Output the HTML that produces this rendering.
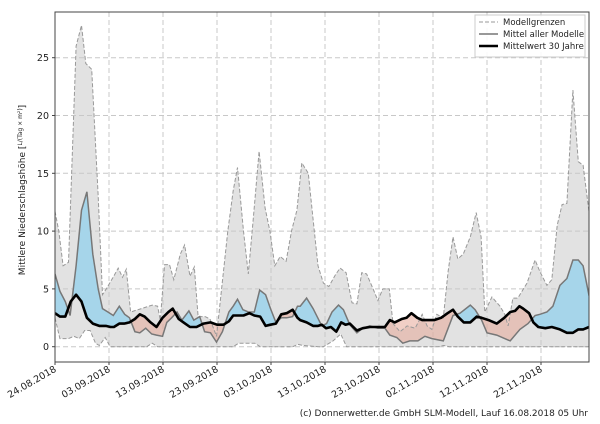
<!DOCTYPE html><html><head><meta charset="utf-8"><style>
body{margin:0;background:#fff;width:600px;height:420px;overflow:hidden;font-family:"DejaVu Sans","Liberation Sans",sans-serif}
</style></head><body>
<svg id="s" width="600" height="420" xmlns="http://www.w3.org/2000/svg" font-family="DejaVu Sans, Liberation Sans, sans-serif"></svg>
<script>
const X0=55,X1=589,Y0=12,Y1=362;
const px=d=>X0+d*5.4, py=v=>346.7-v*11.56;
const up=[[0,11.7],[0.7,10],[1.5,7],[2.5,7.3],[3.9,26],[4.9,27.8],[5.7,24.5],[6.8,24],[8,13],[8.8,4.5],[9.5,5],[11,6.2],[11.7,6.8],[12.5,6],[13.2,6.7],[14,3],[16,3.3],[18,3.6],[19,3.5],[19.5,2.3],[20.3,7.1],[21.2,7.1],[22,5.8],[23.2,8],[24,8.8],[25,6.1],[25.8,6.9],[26.5,2.6],[27.8,2.6],[28.7,2.4],[29.9,0.9],[32,10],[33,13.5],[33.8,15.5],[34.9,10],[35.8,6.3],[36.7,11],[37.8,16.9],[38.9,12],[39.8,10],[40.7,7],[41.7,7.8],[42.8,7.4],[43.8,10],[44.8,11.8],[45.7,15.9],[46.9,15],[47.8,11],[48.7,7],[49.7,5.5],[50.7,5.2],[51.9,6.2],[52.8,6.8],[53.9,6.4],[55,3.8],[55.9,3.7],[56.8,6.4],[57.7,6.3],[58.9,5],[59.8,4],[60.7,5],[61.9,5],[62.6,2],[63.9,1.3],[65.2,1.8],[66.7,1.6],[68,2.8],[68.9,1.8],[69.8,1.5],[70.7,2.8],[71.9,2.5],[72.8,6.5],[73.7,9.5],[74.6,7.6],[75.6,8],[76.9,9.5],[78,11.6],[78.9,9.5],[79.6,3],[80.9,4.3],[82.4,3.5],[83.3,2.8],[83.9,1.8],[84.8,4.2],[85.7,4.2],[87.4,5.5],[88.9,7.5],[89.8,6.5],[91.1,5.3],[92,5.8],[93,10.5],[93.9,12.3],[94.8,12.4],[95.9,22.2],[96.9,16],[97.8,15.7],[98.9,11.6]];
const lo=[[0,2.5],[0.9,0.7],[2.5,0.7],[3.5,0.9],[4.5,0.7],[5.5,1.4],[6.5,1.4],[7.5,0.3],[8.2,0.1],[9.3,0.8],[10.2,0],[17,0],[18,0.3],[19,0],[33,0],[34,0.3],[37,0.3],[38,0],[44,0],[45,0.2],[46,0.1],[48.7,0],[49.7,0],[51.5,0.5],[52.9,1.1],[54,0],[71,0],[72,0.1],[73,0],[98.9,0]];
const mn=[[0,6.3],[0.9,4.8],[1.9,3.9],[2.8,2.7],[3.9,7],[4.9,11.8],[5.9,13.4],[7,8],[8,5],[8.8,3.3],[9.8,3],[10.8,2.7],[11.9,3.5],[12.9,2.8],[13.8,2.5],[14.8,1.3],[15.7,1.2],[16.8,1.6],[17.9,1.1],[18.8,1],[19.9,0.9],[20.7,2.1],[21.6,2.5],[22.6,3],[23.5,2.3],[24.8,3.1],[25.7,2.3],[26.8,2.6],[27.7,1.3],[28.8,1.2],[29.9,0.4],[31,1.3],[32.2,3],[33,3.5],[33.8,4.1],[34.8,3.2],[35.8,3],[36.9,3],[37.9,4.9],[39,4.5],[39.9,3.3],[40.9,2.1],[41.9,2.5],[42.9,2.5],[44,2.6],[44.9,3.5],[45.4,3.5],[46.6,4.2],[47.8,3.3],[49.4,1.8],[50.3,2],[51.3,3],[52.5,3.6],[53.4,3.2],[54.6,1.9],[55.9,1.2],[57,1.6],[58.3,1.8],[59.8,1.6],[61.1,1.6],[62,1],[63.3,0.8],[64.4,0.3],[65.7,0.5],[67.2,0.5],[68.5,0.9],[69.8,0.7],[71.9,0.5],[73.7,2.7],[75,2.9],[76.9,3.6],[77.8,3.2],[79,2.3],[80,1.2],[81.8,1],[84.3,0.5],[86.1,1.5],[87.6,2],[88.9,2.7],[89.8,2.8],[91.1,3],[92.2,3.5],[93.5,5.3],[94.8,5.9],[95.9,7.5],[96.9,7.5],[97.8,7],[98.9,4.4]];
const cl=[[0,2.9],[0.9,2.6],[1.9,2.6],[2.9,3.9],[3.9,4.5],[4.9,3.9],[5.9,2.5],[7,2],[8.2,1.8],[9.4,1.8],[10.3,1.7],[10.9,1.7],[11.9,2],[12.8,2],[13.8,2.1],[14.8,2.4],[15.7,2.8],[16.6,2.6],[17.7,2.1],[18.8,1.7],[19.9,2.5],[21,3],[21.8,3.3],[22.9,2.4],[23.8,2.1],[25,1.7],[26.2,1.7],[27.5,2],[28.8,2.1],[30,1.9],[31.2,1.9],[32.2,2.2],[33,2.7],[34,2.7],[34.9,2.7],[36,2.9],[36.9,2.7],[38,2.6],[39,1.8],[39.9,1.9],[40.9,2],[41.9,2.8],[42.9,2.9],[44,3.2],[44.9,2.5],[45.4,2.3],[46.6,2.1],[47.8,1.8],[48.7,1.8],[49.4,1.9],[50.2,1.6],[51.1,1.7],[52.1,1.3],[53,2.1],[53.8,1.9],[54.6,2],[55.9,1.4],[57,1.6],[58.3,1.7],[59.8,1.7],[61.1,1.7],[62,2.3],[62.9,2.1],[64.2,2.4],[65.1,2.5],[66,2.9],[67.1,2.5],[68,2.3],[69.3,2.3],[70.2,2.3],[71.5,2.5],[72.7,2.9],[73.7,3.2],[74.6,2.6],[75.7,2.1],[76.9,2.1],[78.1,2.6],[79,2.5],[80.3,2.3],[81.8,2],[83.2,2.5],[84.3,3],[85.2,3.1],[86,3.5],[86.7,3.3],[87.8,2.9],[88.6,2.1],[89.5,1.7],[90.8,1.6],[92,1.7],[93.5,1.5],[94.8,1.2],[95.9,1.2],[96.9,1.5],[97.8,1.5],[98.9,1.7]];
const P=a=>a.map(p=>px(p[0]).toFixed(1)+','+py(p[1]).toFixed(1)).join(' ');
const rev=a=>a.slice().reverse();
let h='';
h+=`<defs><clipPath id="pa"><rect x="${X0}" y="${Y0}" width="${X1-X0}" height="${Y1-Y0}"/></clipPath>
<clipPath id="aboveCl"><polygon points="${P(cl)} ${X1},0 ${X0},0"/></clipPath>
<clipPath id="aboveMn"><polygon points="${P(mn)} ${X1},0 ${X0},0"/></clipPath></defs>`;
h+=`<g clip-path="url(#pa)">`;
h+=`<polygon points="${P(up)} ${P(rev(lo))}" fill="#e2e2e2"/>`;
// grid
let g='';
for(let v=0;v<=25;v+=5)g+=`<line x1="${X0}" x2="${X1}" y1="${py(v)}" y2="${py(v)}" stroke="#c8c8c8" stroke-dasharray="5,3" stroke-width="1"/>`;
for(let d=10;d<99;d+=10)g+=`<line y1="${Y0}" y2="${Y1}" x1="${px(d)}" x2="${px(d)}" stroke="#c8c8c8" stroke-dasharray="5,3" stroke-width="1"/>`;
h+=g;
h+=`<polygon clip-path="url(#aboveCl)" points="${P(mn)} ${X1},400 ${X0},400" fill="#a6d5ea"/>`;
h+=`<polygon clip-path="url(#aboveMn)" points="${P(cl)} ${X1},400 ${X0},400" fill="#e6a898" fill-opacity="0.55"/>`;
h+=`<polyline points="${P(up)}" fill="none" stroke="#999" stroke-dasharray="4,2" stroke-width="1"/>`;
h+=`<polyline points="${P(lo)}" fill="none" stroke="#999" stroke-dasharray="4,2" stroke-width="1"/>`;
h+=`<polyline points="${P(mn)}" fill="none" stroke="#777" stroke-width="1.5"/>`;
h+=`<polyline points="${P(cl)}" fill="none" stroke="#000" stroke-width="2.6" stroke-linejoin="round"/>`;
h+=`</g>`;
h+=`<rect x="${X0}" y="${Y0}" width="${X1-X0}" height="${Y1-Y0}" fill="none" stroke="#444" stroke-width="1"/>`;
for(let v=0;v<=25;v+=5){h+=`<line x1="${X0-3}" x2="${X0}" y1="${py(v)}" y2="${py(v)}" stroke="#444"/><text x="${X0-6}" y="${py(v)+3.5}" font-size="9.5" text-anchor="end" fill="#222">${v}</text>`;}
const labs=['24.08.2018','03.09.2018','13.09.2018','23.09.2018','03.10.2018','13.10.2018','23.10.2018','02.11.2018','12.11.2018','22.11.2018'];
labs.forEach((l,i)=>{const x=px(i*10);h+=`<line x1="${x}" x2="${x}" y1="${Y1}" y2="${Y1+3}" stroke="#444"/><text transform="translate(${x+2},${Y1+9}) rotate(-30)" font-size="9.5" text-anchor="end" fill="#222">${l}</text>`;});
h+=`<text transform="translate(25,190) rotate(-90)" font-size="9" text-anchor="middle" fill="#222">Mittlere Niederschlagshöhe [<tspan font-size="6" dy="-3">L/(Tag × m²)</tspan><tspan dy="3">]</tspan></text>`;
h+=`<rect x="475" y="15" width="110" height="42" fill="#fff" fill-opacity="0.9" stroke="#ccc"/>`;
h+=`<line x1="479" x2="498" y1="22" y2="22" stroke="#999" stroke-dasharray="4,2"/><text x="503" y="25" font-size="8.5" fill="#222">Modellgrenzen</text>`;
h+=`<line x1="479" x2="498" y1="34" y2="34" stroke="#777" stroke-width="1.5"/><text x="503" y="37" font-size="8.5" fill="#222">Mittel aller Modelle</text>`;
h+=`<line x1="479" x2="498" y1="46" y2="46" stroke="#000" stroke-width="2.6"/><text x="503" y="49" font-size="8.5" fill="#222">Mittelwert 30 Jahre</text>`;
h+=`<text x="588" y="416" font-size="9" text-anchor="end" fill="#222">(c) Donnerwetter.de GmbH SLM-Modell, Lauf 16.08.2018 05 Uhr</text>`;
document.getElementById('s').innerHTML=h;
</script>
</body></html>
